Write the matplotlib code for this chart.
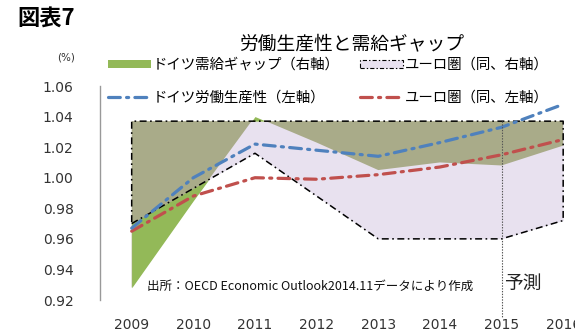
import numpy as np
import matplotlib
matplotlib.use('Agg')
import matplotlib.pyplot as plt
from matplotlib.patches import Patch
from matplotlib.lines import Line2D

plt.rcParams['font.family'] = ['Noto Sans CJK JP', 'DejaVu Sans']
plt.rcParams['lines.scale_dashes'] = False

# Data (left-axis units)
years = [2009, 2010, 2011, 2012, 2013, 2014, 2015, 2016]
de_productivity = [0.967, 1.000, 1.022, 1.018, 1.014, 1.023, 1.033, 1.048]
ez_productivity = [0.965, 0.988, 1.000, 0.999, 1.002, 1.007, 1.015, 1.025]
# output gaps (right axis), expressed on the left-axis scale
gap_zero = 1.037
de_gap = [0.928, 0.985, 1.040, 1.023, 1.005, 1.010, 1.008, 1.021]
ez_gap = [0.970, 0.993, 1.016, 0.988, 0.960, 0.960, 0.960, 0.972]
forecast_year = 2015

yticks = [0.92, 0.94, 0.96, 0.98, 1.00, 1.02, 1.04, 1.06]

x = np.array(years)
de_g = np.array(de_gap)
ez_g = np.array(ez_gap)

green = '#93B958'
olive = '#A9AB89'
lavender = '#E8E1EF'
blue = '#4F81BD'
red = '#C0504D'

fig = plt.figure(figsize=(5.75, 3.36), dpi=100)
ax = fig.add_axes([100 / 575, 1 - 300 / 336, 494 / 575, 214 / 336])

# areas
ax.fill_between(x, ez_g, gap_zero, color=lavender, lw=0, zorder=1)
ax.fill_between(x, de_g, gap_zero, where=de_g <= gap_zero, interpolate=True,
                color=olive, lw=0, zorder=2)
ax.fill_between(x, de_g, ez_g, where=de_g <= ez_g, interpolate=True,
                color=green, lw=0, zorder=3)
ax.fill_between(x, gap_zero, de_g, where=de_g >= gap_zero, interpolate=True,
                color=green, lw=0, zorder=3)

# outline of the euro-area gap area
ox = list(years) + [years[-1], years[0], years[0]]
oy = list(ez_gap) + [gap_zero, gap_zero, ez_gap[0]]
ax.plot(ox, oy, color='black', lw=1.1, dashes=(5, 2.5, 1.2, 2.5), zorder=4)

# productivity lines
dd = (8.5, 4.5, 1.5, 4.5)
ax.plot(years, de_productivity, color=blue, lw=2.3, dashes=dd,
        dash_capstyle='round', zorder=6)
ax.plot(years, ez_productivity, color=red, lw=2.3, dashes=dd,
        dash_capstyle='round', zorder=5)

# forecast marker
ax.plot([forecast_year, forecast_year], [gap_zero, 0.909], color='#555555',
        lw=0.8, ls=(0, (1, 1)), clip_on=False, zorder=7)
ax.text(forecast_year + 0.04, 0.931, '予測', fontsize=13.5, color='#222222',
        va='center', ha='left')
ax.text(2009.25, 0.929, '出所：OECD Economic Outlook2014.11データにより作成',
        fontsize=9.0, color='#111111', va='center', ha='left')

ax.set_xlim(2008.486, 2016.5)
ax.set_ylim(0.92, 1.06)
ax.set_xticks(years)
ax.set_xticklabels([str(y) for y in years], fontsize=10, family='DejaVu Sans',
                   color='#333333')
ax.set_yticks(yticks)
ax.set_yticklabels(['%.2f' % v for v in yticks], fontsize=10, family='DejaVu Sans',
                   color='#333333')
ax.tick_params(axis='both', length=0)
ax.tick_params(axis='y', pad=19)
ax.tick_params(axis='x', pad=13)
for s in ['top', 'right', 'bottom']:
    ax.spines[s].set_visible(False)
ax.spines['left'].set_color('#999999')
ax.spines['left'].set_linewidth(1)
ax.patch.set_alpha(0)

# titles
fig.text(17 / 575, 1 - 18 / 336, '図表7', fontsize=16, fontweight='bold',
         va='center', ha='left')
fig.text(352 / 575, 1 - 44 / 336, '労働生産性と需給ギャップ', fontsize=13.5,
         va='center', ha='center')
fig.text(66 / 575, 1 - 57 / 336, '(%)', fontsize=7.5, family='DejaVu Sans',
         va='center', ha='center', color='#333333')

# legend
handles = [
    Patch(facecolor=green, edgecolor='none'),
    Line2D([], [], color=blue, lw=2.3, dashes=dd, dash_capstyle='round'),
    Patch(facecolor=lavender, edgecolor='black', lw=0.8, linestyle=(0, (3, 1.5, 1, 1.5))),
    Line2D([], [], color=red, lw=2.3, dashes=dd, dash_capstyle='round'),
]
labels = ['ドイツ需給ギャップ（右軸）', 'ドイツ労働生産性（左軸）',
          'ユーロ圏（同、右軸）', 'ユーロ圏（同、左軸）']
fig.legend(handles, labels, ncol=2, loc='upper left',
           bbox_to_anchor=(108 / 575, 1 - 58 / 336), frameon=False,
           fontsize=10.4, handlelength=3.0, handleheight=0.5,
           handletextpad=0.1, columnspacing=1.4, labelspacing=1.3,
           borderpad=0, borderaxespad=0)

fig.savefig('out.png', dpi=100)
